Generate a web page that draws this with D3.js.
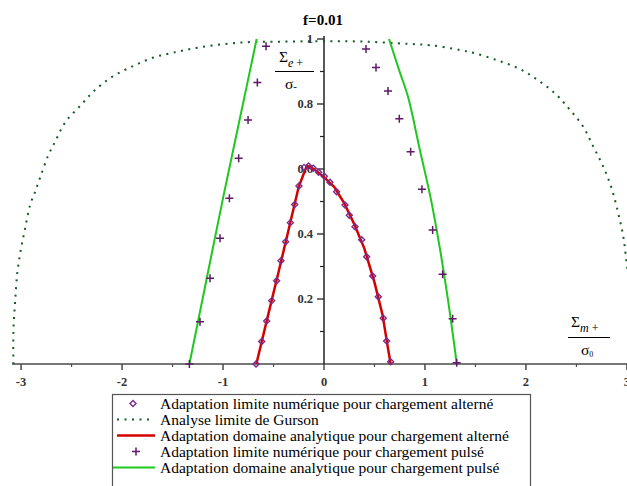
<!DOCTYPE html>
<html>
<head>
<meta charset="utf-8">
<script src="https://cdn.jsdelivr.net/npm/d3@7"></script>
<style>
  body { margin: 0; background: #fff; }
  text { font-family: "Liberation Serif", "Times New Roman", serif; }
</style>
</head>
<body>
<script>
// tick values and labels
var xTicks = [-3, -2, -1, 0, 1, 2, 3];
var xMinorTicks = [-2.5, -1.5, -0.5, 0.5, 1.5, 2.5];
var yTicks = [0.2, 0.4, 0.6, 0.8, 1];
var yTickLabels = ["0.2", "0.4", "0.6", "0.8", "1"];
var yMinorTicks = [0.1, 0.3, 0.5, 0.7, 0.9];

// Gurson limit analysis (dotted)
var gursonX = [-3.076, -3.076, -3.059, -3.036, -3.003, -2.96, -2.911, -2.861, -2.812, -2.736, -2.663, -2.564, -2.416, -2.267, -2.086, -1.888, -1.69, -1.492, -1.235, -0.83, -0.4, 0, 0.4, 0.83, 1.05, 1.347, 1.495, 1.71, 1.924, 2.106, 2.287, 2.436, 2.567, 2.667, 2.766, 2.848, 2.914, 2.964, 2.997, 3.03, 3.06, 3.076];
var gursonY = [0, 0.099, 0.192, 0.284, 0.351, 0.417, 0.489, 0.53, 0.573, 0.638, 0.684, 0.743, 0.794, 0.843, 0.886, 0.917, 0.943, 0.958, 0.974, 0.989, 0.992, 0.993, 0.992, 0.985, 0.981, 0.966, 0.956, 0.935, 0.91, 0.876, 0.833, 0.782, 0.73, 0.669, 0.607, 0.541, 0.464, 0.392, 0.31, 0.23, 0.12, 0];

// numerical shakedown, alternating load (diamonds)
var altNumX = [-0.673, -0.617, -0.568, -0.518, -0.469, -0.426, -0.38, -0.333, -0.29, -0.248, -0.198, -0.152, -0.106, -0.053, 0.003, 0.059, 0.125, 0.208, 0.251, 0.307, 0.373, 0.422, 0.482, 0.538, 0.587, 0.62, 0.66];
var altNumY = [0, 0.069, 0.132, 0.195, 0.256, 0.318, 0.376, 0.435, 0.491, 0.548, 0.605, 0.609, 0.602, 0.59, 0.578, 0.559, 0.53, 0.489, 0.458, 0.422, 0.382, 0.33, 0.271, 0.207, 0.141, 0.071, 0.007];

// analytical domain, alternating load (red)
var altAnaX = [-0.67, -0.55, -0.45, -0.35, -0.25, -0.17, -0.1, 0, 0.1, 0.2, 0.3, 0.4, 0.5, 0.58, 0.63, 0.66];
var altAnaY = [0, 0.155, 0.283, 0.414, 0.546, 0.61, 0.6, 0.575, 0.545, 0.495, 0.43, 0.355, 0.251, 0.151, 0.055, 0];

// numerical shakedown, pulsating load (plus)
var pulNumX = [-1.333, -1.228, -1.129, -1.03, -0.937, -0.845, -0.752, -0.66, -0.574, 0.416, 0.515, 0.634, 0.746, 0.858, 0.97, 1.076, 1.175, 1.274, 1.314];
var pulNumY = [0, 0.13, 0.264, 0.387, 0.51, 0.633, 0.751, 0.866, 0.978, 0.969, 0.912, 0.84, 0.755, 0.653, 0.538, 0.412, 0.276, 0.139, 0.004];

// analytical domain, pulsating load (green), left and right branch
var pulAnaLeftX = [-1.333, -1.17, -0.997, -0.83, -0.667];
var pulAnaLeftY = [0, 0.25, 0.515, 0.76, 1.0];
var pulAnaRightX = [0.644, 0.743, 0.832, 0.95, 1.06, 1.15, 1.228, 1.297, 1.314];
var pulAnaRightY = [1.0, 0.905, 0.822, 0.658, 0.505, 0.351, 0.197, 0.043, 0];

var legendLabels = [
  "Adaptation limite numérique pour chargement alterné",
  "Analyse limite de Gurson",
  "Adaptation domaine analytique pour chargement alterné",
  "Adaptation limite numérique pour chargement pulsé",
  "Adaptation domaine analytique pour chargement pulsé"
];

var width = 627,
    height = 486;

var svg = d3.select("body").append("svg")
    .attr("width", width)
    .attr("height", height);

var x = d3.scaleLinear().domain([-3.08, 3.08]).range([13, 635]);
var y = d3.scaleLinear().domain([0, 1]).range([364, 39]);

function zip(xs, ys) {
  return xs.map(function(v, i) { return [v, ys[i]]; });
}

var line = d3.line()
    .x(function(d) { return x(d[0]); })
    .y(function(d) { return y(d[1]); });

var smooth = d3.line()
    .x(function(d) { return x(d[0]); })
    .y(function(d) { return y(d[1]); })
    .curve(d3.curveCatmullRom.alpha(0.5));

var axisColor = "#4a4a4a";

// x axis
svg.append("line")
    .attr("x1", 12).attr("x2", width)
    .attr("y1", y(0)).attr("y2", y(0))
    .attr("stroke", axisColor).attr("stroke-width", 1.5);

svg.selectAll(".xtick").data(xTicks).enter().append("line")
    .attr("x1", function(d) { return x(d); })
    .attr("x2", function(d) { return x(d); })
    .attr("y1", y(0)).attr("y2", y(0) + 6)
    .attr("stroke", axisColor).attr("stroke-width", 1.5);

svg.selectAll(".xminor").data(xMinorTicks).enter().append("line")
    .attr("x1", function(d) { return x(d); })
    .attr("x2", function(d) { return x(d); })
    .attr("y1", y(0)).attr("y2", y(0) + 3)
    .attr("stroke", axisColor).attr("stroke-width", 1.2);

svg.selectAll(".xlabel").data(xTicks).enter().append("text")
    .attr("x", function(d) { return x(d); })
    .attr("y", 386)
    .attr("text-anchor", "middle")
    .attr("font-size", 12.5)
    .attr("font-weight", "bold")
    .attr("fill", "#333")
    .text(function(d) { return d; });

// y axis
svg.append("line")
    .attr("x1", x(0)).attr("x2", x(0))
    .attr("y1", y(0)).attr("y2", 36)
    .attr("stroke", "#222").attr("stroke-width", 1.5);

svg.selectAll(".ytick").data(yTicks).enter().append("line")
    .attr("x1", x(0) - 7).attr("x2", x(0))
    .attr("y1", function(d) { return y(d); })
    .attr("y2", function(d) { return y(d); })
    .attr("stroke", "#222").attr("stroke-width", 1.3);

svg.selectAll(".yminor").data(yMinorTicks).enter().append("line")
    .attr("x1", x(0) - 4).attr("x2", x(0))
    .attr("y1", function(d) { return y(d); })
    .attr("y2", function(d) { return y(d); })
    .attr("stroke", "#222").attr("stroke-width", 1.2);

svg.selectAll(".ylabel").data(yTicks).enter().append("text")
    .attr("x", x(0) - 11)
    .attr("y", function(d) { return y(d) + 4; })
    .attr("text-anchor", "end")
    .attr("font-size", 12.5)
    .attr("font-weight", "bold")
    .attr("fill", "#333")
    .text(function(d, i) { return yTickLabels[i]; });

// title
svg.append("text")
    .attr("x", 323).attr("y", 25)
    .attr("text-anchor", "middle")
    .attr("font-size", 15)
    .attr("font-weight", "bold")
    .text("f=0.01");

// y axis label: Sigma e+ / sigma-
var yl = svg.append("g");
yl.append("text").attr("x", 279).attr("y", 62).attr("font-size", 15.5)
    .text("Σ")
  .append("tspan").attr("dy", 5).attr("font-size", 12)
    .attr("font-style", "italic").text("e")
  .clone().attr("dy", 0).attr("font-style", "normal").text(" +");
yl.append("line").attr("x1", 275).attr("x2", 314).attr("y1", 71.5).attr("y2", 71.5)
    .attr("stroke", "#000").attr("stroke-width", 1);
yl.append("text").attr("x", 285).attr("y", 89).attr("font-size", 15.5)
    .text("σ")
  .append("tspan").attr("dy", 1).attr("font-size", 11).text("-");

// x axis label: Sigma m+ / sigma0
var xl = svg.append("g");
xl.append("text").attr("x", 571).attr("y", 327).attr("font-size", 15.5)
    .text("Σ")
  .append("tspan").attr("dy", 5).attr("font-size", 12)
    .attr("font-style", "italic").text("m")
  .clone().attr("dy", 0).attr("font-style", "normal").text(" +");
xl.append("line").attr("x1", 568).attr("x2", 610).attr("y1", 337.5).attr("y2", 337.5)
    .attr("stroke", "#000").attr("stroke-width", 1);
xl.append("text").attr("x", 581).attr("y", 355).attr("font-size", 15.5)
    .text("σ")
  .append("tspan").attr("dy", 2).attr("font-size", 8).text("0");

// Gurson curve
svg.append("path")
    .datum(zip(gursonX, gursonY))
    .attr("d", smooth)
    .attr("fill", "none")
    .attr("stroke", "#145a28")
    .attr("stroke-width", 2)
    .attr("stroke-dasharray", "2,5.5");

// green analytic pulsating branches
[zip(pulAnaLeftX, pulAnaLeftY), zip(pulAnaRightX, pulAnaRightY)].forEach(function(pts) {
  svg.append("path")
      .datum(pts)
      .attr("d", smooth)
      .attr("fill", "none")
      .attr("stroke", "#1ec81e")
      .attr("stroke-width", 2);
});

// red analytic alternating
svg.append("path")
    .datum(zip(altAnaX, altAnaY))
    .attr("d", line)
    .attr("fill", "none")
    .attr("stroke", "#d40000")
    .attr("stroke-width", 2.5);

// diamonds
var diamond = "M0,-3L3,0L0,3L-3,0Z";
svg.selectAll(".dia").data(zip(altNumX, altNumY)).enter().append("path")
    .attr("d", diamond)
    .attr("transform", function(d) { return "translate(" + x(d[0]) + "," + y(d[1]) + ")"; })
    .attr("fill", "none")
    .attr("stroke", "#7a2a8c")
    .attr("stroke-width", 1.4);

// plus markers
svg.selectAll(".plus").data(zip(pulNumX, pulNumY)).enter().append("path")
    .attr("d", "M-4,0H4M0,-4V4")
    .attr("transform", function(d) { return "translate(" + x(d[0]) + "," + y(d[1]) + ")"; })
    .attr("fill", "none")
    .attr("stroke", "#5e1a66")
    .attr("stroke-width", 1.5);

// legend
var lg = svg.append("g");
lg.append("rect")
    .attr("x", 112.5).attr("y", 394.5)
    .attr("width", 418).attr("height", 100)
    .attr("fill", "#fff")
    .attr("stroke", "#555").attr("stroke-width", 1.2);

var rowY = function(i) { return 403.5 + i * 16; };

lg.selectAll(".ltext").data(legendLabels).enter().append("text")
    .attr("x", 160)
    .attr("y", function(d, i) { return rowY(i) + 5; })
    .attr("font-size", 15.5)
    .text(function(d) { return d; });

lg.append("path").attr("d", diamond)
    .attr("transform", "translate(133," + rowY(0) + ")")
    .attr("fill", "none").attr("stroke", "#7a2a8c").attr("stroke-width", 1.4);
lg.append("line").attr("x1", 117).attr("x2", 152).attr("y1", rowY(1)).attr("y2", rowY(1))
    .attr("stroke", "#145a28").attr("stroke-width", 2).attr("stroke-dasharray", "2,5.5");
lg.append("line").attr("x1", 117).attr("x2", 155).attr("y1", rowY(2)).attr("y2", rowY(2))
    .attr("stroke", "#d40000").attr("stroke-width", 2.5);
lg.append("path").attr("d", "M-4,0H4M0,-4V4")
    .attr("transform", "translate(136," + rowY(3) + ")")
    .attr("fill", "none").attr("stroke", "#5e1a66").attr("stroke-width", 1.5);
lg.append("line").attr("x1", 113).attr("x2", 155).attr("y1", rowY(4)).attr("y2", rowY(4))
    .attr("stroke", "#1ec81e").attr("stroke-width", 2);
</script>
</body>
</html>
